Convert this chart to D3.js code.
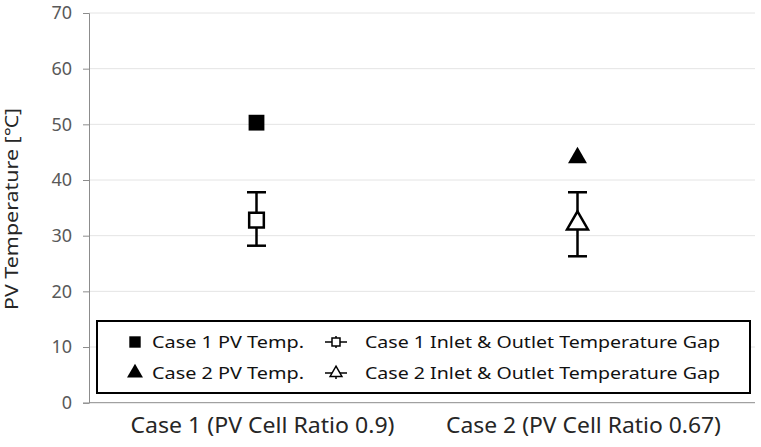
<!DOCTYPE html>
<html>
<head>
<meta charset="utf-8">
<script src="https://cdn.jsdelivr.net/npm/d3@7"></script>
<style>
  body { margin: 0; background: #fff; }
  text { font-family: "Noto Sans", "Open Sans", sans-serif; }
</style>
</head>
<body>
<div id="chart"></div>
<script>
// values
const categories = ["Case 1 (PV Cell Ratio 0.9)", "Case 2 (PV Cell Ratio 0.67)"];
const pvTemp = [50.3, 44.0];
const gapMean = [32.8, 32.2];
const gapHigh = [37.8, 37.8];
const gapLow = [28.2, 26.3];
const yTicks = [0, 10, 20, 30, 40, 50, 60, 70];
const legendLeft = ["Case 1 PV Temp.", "Case 2 PV Temp."];
const legendRight = ["Case 1 Inlet & Outlet Temperature Gap", "Case 2 Inlet & Outlet Temperature Gap"];
const yTitle = "PV Temperature [℃]";

const width = 761, height = 447;
const svg = d3.select("#chart").append("svg")
  .attr("width", width)
  .attr("height", height);

const y = d3.scaleLinear().domain([0, 70]).range([402.7, 13]);
const x = d3.scaleBand().domain(categories).range([96, 738]);
const cx = d => x(d) + x.bandwidth() / 2;

// gridlines
svg.append("g")
  .selectAll("line")
  .data(yTicks.filter(d => d > 0))
  .join("line")
  .attr("x1", 89).attr("x2", 755)
  .attr("y1", d => y(d)).attr("y2", d => y(d))
  .style("stroke", "#e4e4e4")
  .style("stroke-width", 1);

// y axis
const yAxis = svg.append("g")
  .attr("transform", "translate(89,0)")
  .call(d3.axisLeft(y).tickValues(yTicks).tickSize(6).tickPadding(11));
yAxis.select(".domain").style("stroke", "#8c8c8c");
yAxis.selectAll(".tick line").style("stroke", "#8c8c8c");
yAxis.selectAll(".tick text")
  .style("font-size", "18px")
  .style("fill", "#595959")
  .style("font-family", "'Noto Sans', sans-serif");

// x axis line
svg.append("line")
  .attr("x1", 89).attr("x2", 755)
  .attr("y1", y(0)).attr("y2", y(0))
  .style("stroke", "#8c8c8c");

// x labels
const xLabelW = [264, 275];
svg.append("g")
  .selectAll("text")
  .data(categories)
  .join("text")
  .attr("x", d => cx(d) + 6)
  .attr("y", 433)
  .attr("text-anchor", "middle")
  .attr("textLength", (d, i) => xLabelW[i])
  .attr("lengthAdjust", "spacingAndGlyphs")
  .style("font-size", "21px")
  .style("fill", "#262626")
  .text(d => d);

// y title
svg.append("text")
  .attr("transform", `translate(18,209) rotate(-90)`)
  .attr("text-anchor", "middle")
  .attr("textLength", 202)
  .attr("lengthAdjust", "spacingAndGlyphs")
  .style("font-size", "18px")
  .style("fill", "#262626")
  .text(yTitle);

// error bars
const capW = 19;
const eb = svg.append("g")
  .style("stroke", "#000")
  .style("stroke-width", 2.5);
categories.forEach((c, i) => {
  eb.append("line")
    .attr("x1", cx(c)).attr("x2", cx(c))
    .attr("y1", y(gapHigh[i])).attr("y2", y(gapLow[i]));
  [gapHigh[i], gapLow[i]].forEach(v => {
    eb.append("line")
      .attr("x1", cx(c) - capW / 2).attr("x2", cx(c) + capW / 2)
      .attr("y1", y(v)).attr("y2", y(v));
  });
});

const symbols = [d3.symbolSquare, d3.symbolTriangle];
const filledSize = [250, 156];
const openSize = [215, 190];

// open markers (gap mean)
svg.append("g")
  .selectAll("path")
  .data(categories)
  .join("path")
  .attr("transform", (d, i) => `translate(${cx(d)},${y(gapMean[i])})`)
  .attr("d", (d, i) => d3.symbol().type(symbols[i]).size(openSize[i])())
  .style("fill", "#fff")
  .style("stroke", "#000")
  .style("stroke-width", 2.5);

// filled markers (PV temp)
svg.append("g")
  .selectAll("path")
  .data(categories)
  .join("path")
  .attr("transform", (d, i) => `translate(${cx(d)},${y(pvTemp[i])})`)
  .attr("d", (d, i) => d3.symbol().type(symbols[i]).size(filledSize[i])())
  .style("fill", "#000");

// legend
const lg = svg.append("g");
lg.append("rect")
  .attr("x", 97).attr("y", 321)
  .attr("width", 653).attr("height", 72)
  .style("fill", "#fff")
  .style("stroke", "#000")
  .style("stroke-width", 2);

const rowY = [342, 373];
const leftW = [152, 152];
const rightW = [355, 355];
rowY.forEach((ry, i) => {
  lg.append("path")
    .attr("transform", `translate(135,${ry})`)
    .attr("d", d3.symbol().type(symbols[i]).size(i === 0 ? 130 : 110)())
    .style("fill", "#000");
  lg.append("text")
    .attr("x", 152).attr("y", ry + 6)
    .attr("textLength", leftW[i])
    .attr("lengthAdjust", "spacingAndGlyphs")
    .style("font-size", "17px")
    .style("fill", "#111")
    .text(legendLeft[i]);

  lg.append("line")
    .attr("x1", 325).attr("x2", 347)
    .attr("y1", ry).attr("y2", ry)
    .style("stroke", "#000").style("stroke-width", 1.5);
  lg.append("line")
    .attr("x1", 336).attr("x2", 336)
    .attr("y1", ry - 6).attr("y2", ry + 6)
    .style("stroke", "#000").style("stroke-width", 1.5);
  lg.append("path")
    .attr("transform", `translate(336,${ry})`)
    .attr("d", d3.symbol().type(symbols[i]).size(i === 0 ? 64 : 60)())
    .style("fill", "#fff")
    .style("stroke", "#000")
    .style("stroke-width", 1.5);
  lg.append("text")
    .attr("x", 365).attr("y", ry + 6)
    .attr("textLength", rightW[i])
    .attr("lengthAdjust", "spacingAndGlyphs")
    .style("font-size", "17px")
    .style("fill", "#111")
    .text(legendRight[i]);
});
</script>
</body>
</html>
